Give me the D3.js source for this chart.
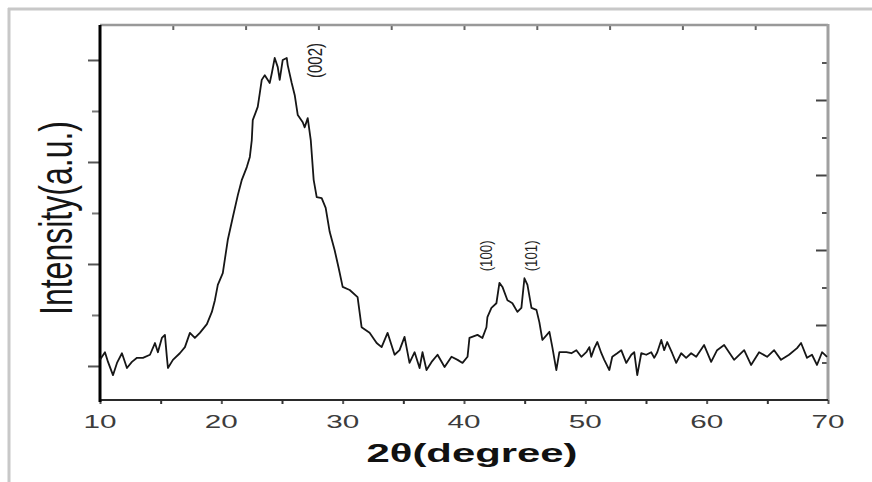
<!DOCTYPE html>
<html>
<head>
<meta charset="utf-8">
<script src="https://cdn.jsdelivr.net/npm/d3@7"></script>
<style>
  html, body { margin: 0; padding: 0; background: #fff; }
  svg { display: block; font-family: "Liberation Sans", Arial, sans-serif; }
</style>
</head>
<body>
<div class="chart"></div>
<script>
// 2θ (degree) and intensity (a.u.)
var twoTheta = [10.00, 10.41, 10.66, 11.07, 11.40, 11.81, 12.22, 12.63, 13.05, 13.54,
  14.12, 14.53, 14.77, 15.10, 15.35, 15.51, 15.60, 16.01, 16.58, 17.00,
  17.41, 17.82, 18.23, 18.81, 19.22, 19.47, 19.71, 20.12, 20.53, 20.95,
  21.36, 21.69, 22.10, 22.35, 22.51, 22.59, 23.00, 23.17, 23.33, 23.58,
  23.99, 24.16, 24.40, 24.65, 24.81, 25.06, 25.39, 25.47, 25.80, 26.05,
  26.30, 26.71, 26.87, 27.12, 27.37, 27.61, 27.86, 28.27, 28.60, 28.93,
  29.34, 29.67, 30.00, 30.58, 31.23, 31.56, 32.22, 32.80, 33.21, 33.70,
  34.28, 34.69, 35.10, 35.51, 35.93, 36.34, 36.58, 36.91, 37.33, 37.82,
  38.40, 38.97, 39.47, 39.88, 40.29, 40.45, 41.11, 41.52, 41.85, 41.93,
  42.26, 42.67, 42.92, 43.17, 43.58, 43.99, 44.40, 44.73, 44.98, 45.23,
  45.56, 45.97, 46.21, 46.46, 47.04, 47.28, 47.61, 47.86, 48.44, 48.85,
  49.26, 49.67, 50.08, 50.33, 50.49, 50.74, 50.99, 51.32, 51.56, 51.98,
  52.22, 52.63, 52.96, 53.37, 53.79, 54.03, 54.28, 54.61, 55.02, 55.43,
  55.68, 55.93, 56.26, 56.50, 56.75, 57.16, 57.49, 57.90, 58.31, 58.72,
  59.14, 59.79, 60.37, 60.86, 61.44, 62.26, 63.09, 63.66, 64.32, 64.98,
  65.56, 66.13, 66.79, 67.45, 67.78, 68.27, 68.68, 69.09, 69.51, 69.92];
var intensity = [12, 27, 8, -18, 6, 25, -4, 8, 16, 16,
  22, 45, 27, 55, 61, 18, -4, 12, 25, 37,
  65, 55, 65, 82, 106, 129, 159, 182, 247, 292,
  335, 365, 390, 410, 443, 482, 508, 535, 561, 570,
  555, 574, 604, 586, 561, 600, 604, 590, 555, 531,
  492, 478, 468, 486, 443, 365, 331, 329, 310, 263,
  227, 192, 155, 149, 135, 76, 65, 45, 37, 65,
  22, 31, 57, 6, 27, -4, 27, -8, 8, 22,
  -2, 18, 12, 6, 18, 55, 61, 55, 76, 96,
  114, 123, 163, 155, 129, 123, 106, 114, 172, 159,
  114, 110, 86, 51, 67, 37, -8, 27, 27, 25,
  31, 18, 27, 37, 18, 35, 47, 25, 12, -8,
  18, 25, 31, 6, 22, 27, -18, 25, 22, 27,
  16, 27, 51, 31, 47, 25, 6, 25, 16, 25,
  18, 41, 8, 31, 41, 12, 31, 2, 27, 18,
  31, 12, 22, 35, 45, 16, 22, 2, 27, 18];

var xTickLabels = [10, 20, 30, 40, 50, 60, 70];
var xMinorTicks = [15, 25, 35, 45, 55, 65];
var yMajorTicks = [0, 200, 400, 600];
var yMinorTicks = [100, 300, 500];

// peak indices
var peakNames = ["(002)", "(100)", "(101)"];
var peakTheta = [27.70, 41.85, 45.56];
var peakLevel = [599, 216, 216];

var width = 872, height = 482;
var margin = { top: 25, right: 44, bottom: 82, left: 100 };
var plotW = width - margin.left - margin.right;
var plotH = height - margin.top - margin.bottom;

var svg = d3.select(".chart").append("svg")
  .attr("width", width)
  .attr("height", height);

// page border left over from the scan
svg.append("line").attr("x1", 8).attr("x2", width).attr("y1", 9).attr("y2", 9)
  .attr("stroke", "#c8c8c8").attr("stroke-width", 3);
svg.append("line").attr("x1", 9).attr("x2", 9).attr("y1", 8).attr("y2", height)
  .attr("stroke", "#c8c8c8").attr("stroke-width", 3);

var g = svg.append("g").attr("transform", `translate(${margin.left},${margin.top})`);

var x = d3.scaleLinear().domain([10, 70]).range([0, plotW]);
var y = d3.scaleLinear().domain([-66.7, 668.6]).range([plotH, 0]);
// top and right frame ticks split the sides into ten parts
var xTop = d3.scaleLinear().domain([0, 10]).range([0, plotW]);
var yRight = d3.scaleLinear().domain([0, 10]).range([plotH, 0]);

function styleAxis(sel, color, w) {
  sel.select(".domain").remove();
  sel.selectAll("text").remove();
  sel.selectAll("line").attr("stroke", color).attr("stroke-width", w);
}

// left ticks (outward)
g.append("g").call(d3.axisLeft(y).tickValues(yMajorTicks).tickSize(12))
  .call(styleAxis, "#555", 2);
g.append("g").call(d3.axisLeft(y).tickValues(yMinorTicks).tickSize(8))
  .call(styleAxis, "#777", 2);

// bottom ticks
g.append("g").attr("transform", `translate(0,${plotH})`)
  .call(d3.axisBottom(x).tickValues(xTickLabels).tickSize(4))
  .call(styleAxis, "#555", 2);
g.append("g").attr("transform", `translate(0,${plotH})`)
  .call(d3.axisBottom(x).tickValues(xMinorTicks).tickSize(4))
  .call(styleAxis, "#333", 2);

// top ticks (inward)
g.append("g")
  .call(d3.axisTop(xTop).tickValues(d3.range(1, 10)).tickSize(-5))
  .call(styleAxis, "#666", 2);

// right ticks (inward)
g.append("g").attr("transform", `translate(${plotW},0)`)
  .call(d3.axisRight(yRight).tickValues([2, 4, 6, 8]).tickSize(-12))
  .call(styleAxis, "#444", 2);
g.append("g").attr("transform", `translate(${plotW},0)`)
  .call(d3.axisRight(yRight).tickValues([1, 3, 5, 7, 9]).tickSize(-6))
  .call(styleAxis, "#555", 2);

// frame
g.append("line").attr("x1", 0).attr("x2", plotW).attr("y1", 0).attr("y2", 0)
  .attr("stroke", "#999").attr("stroke-width", 2.5);
g.append("line").attr("x1", plotW).attr("x2", plotW).attr("y1", -1).attr("y2", plotH)
  .attr("stroke", "#a0a0a0").attr("stroke-width", 3);
g.append("line").attr("x1", 0).attr("x2", plotW).attr("y1", plotH).attr("y2", plotH)
  .attr("stroke", "#2a2a2a").attr("stroke-width", 2.2);
g.append("line").attr("x1", 0).attr("x2", 0).attr("y1", 0).attr("y2", plotH + 2)
  .attr("stroke", "#000").attr("stroke-width", 3);

// x tick labels
g.append("g").selectAll("text")
  .data(xTickLabels)
  .enter()
  .append("text")
  .attr("x", d => x(d))
  .attr("y", plotH + 28)
  .attr("text-anchor", "middle")
  .attr("font-size", 19)
  .attr("fill", "#3c3c3c")
  .attr("textLength", 33)
  .attr("lengthAdjust", "spacingAndGlyphs")
  .text(d => d);

// diffraction curve
var pts = twoTheta.map((t, i) => [t, intensity[i]]);
var line = d3.line().x(d => x(d[0])).y(d => y(d[1]));
g.append("path")
  .datum(pts)
  .attr("d", line)
  .attr("fill", "none")
  .attr("stroke", "#161616")
  .attr("stroke-width", 1.8)
  .attr("stroke-linejoin", "round");

// peak labels
g.append("g").selectAll("text")
  .data(peakNames)
  .enter()
  .append("text")
  .attr("transform", (d, i) => `translate(${x(peakTheta[i])},${y(peakLevel[i])}) rotate(-90)`)
  .attr("text-anchor", "middle")
  .attr("dominant-baseline", "central")
  .attr("font-size", (d, i) => i === 0 ? 20 : 17)
  .attr("fill", "#222")
  .attr("textLength", (d, i) => i === 0 ? 35 : 31)
  .attr("lengthAdjust", "spacingAndGlyphs")
  .text(d => d);

// axis titles
svg.append("text")
  .attr("x", 472)
  .attr("y", 462)
  .attr("text-anchor", "middle")
  .attr("font-size", 25)
  .attr("font-weight", "bold")
  .attr("fill", "#111")
  .attr("textLength", 211)
  .attr("lengthAdjust", "spacingAndGlyphs")
  .text("2θ(degree)");

svg.append("text")
  .attr("transform", "translate(72,218) rotate(-90)")
  .attr("text-anchor", "middle")
  .attr("font-size", 47)
  .attr("fill", "#151515")
  .attr("textLength", 194)
  .attr("lengthAdjust", "spacingAndGlyphs")
  .text("Intensity(a.u.)");
</script>
</body>
</html>
